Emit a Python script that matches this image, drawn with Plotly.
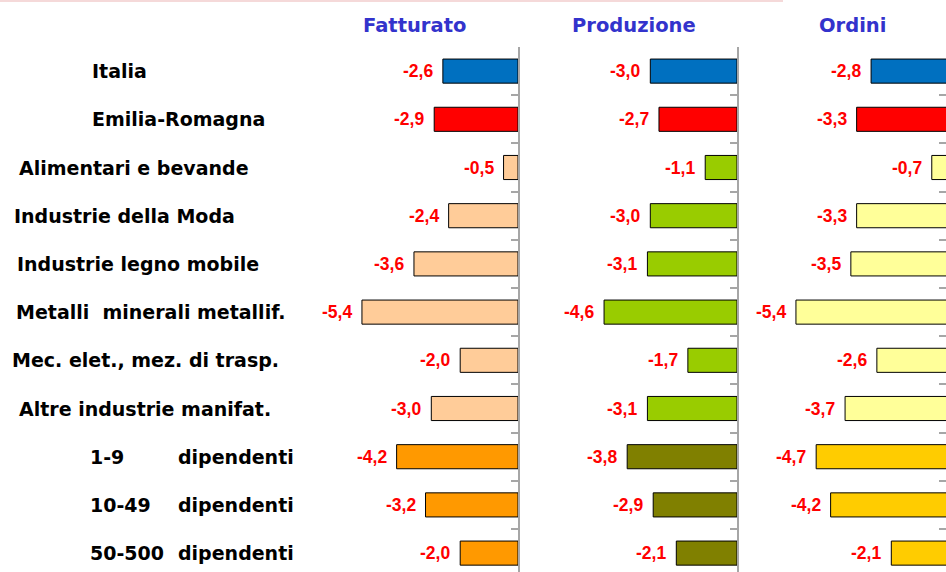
import plotly.graph_objects as go

categories = [
    "Italia",
    "Emilia-Romagna",
    "Alimentari e bevande",
    "Industrie della Moda",
    "Industrie legno mobile",
    "Metalli  minerali metallif.",
    "Mec. elet., mez. di trasp.",
    "Altre industrie manifat.",
    "1-9 dipendenti",
    "10-49 dipendenti",
    "50-500 dipendenti",
]
panel_titles = ["Fatturato", "Produzione", "Ordini"]
fatturato = [-2.6, -2.9, -0.5, -2.4, -3.6, -5.4, -2.0, -3.0, -4.2, -3.2, -2.0]
produzione = [-3.0, -2.7, -1.1, -3.0, -3.1, -4.6, -1.7, -3.1, -3.8, -2.9, -2.1]
ordini = [-2.8, -3.3, -0.7, -3.3, -3.5, -5.4, -2.6, -3.7, -4.7, -4.2, -2.1]

W, H = 946, 572
BLUE, RED = "#0070C0", "#FF0000"
colors_fatt = [BLUE, RED] + ["#FFCC99"] * 6 + ["#FF9900"] * 3
colors_prod = [BLUE, RED] + ["#99CC00"] * 6 + ["#808000"] * 3
colors_ord = [BLUE, RED] + ["#FFFF99"] * 6 + ["#FFCC00"] * 3

series = [fatturato, produzione, ordini]
colors = [colors_fatt, colors_prod, colors_ord]

# layout geometry (pixels)
scale = 28.9              # px per unit
zeros = [518, 737, 952]    # x pixel of value 0 in each panel
lefts = [300, 540, 760]    # left edge of each panel
top_px = 47
row_px = 48.2
n = len(categories)
ypos = list(range(n))
y_bottom = -0.5 + (H - top_px) / row_px

fig = go.Figure()
axis_names = ["", "2", "3"]
for i, (vals, cols) in enumerate(zip(series, colors)):
    xa = "x" + axis_names[i]
    ya = "y" + axis_names[i]
    fig.add_trace(go.Bar(
        x=vals, y=ypos, orientation="h", width=0.5,
        marker=dict(color=cols, line=dict(color="#000000", width=1)),
        xaxis=xa, yaxis=ya, showlegend=False, hoverinfo="x",
    ))
    for v, yv in zip(vals, ypos):
        fig.add_annotation(
            x=v, y=yv, xref=xa, yref=ya, text=("%.1f" % v).replace(".", ","),
            showarrow=False, xanchor="right", xshift=-8,
            font=dict(family="Liberation Sans, Arial", size=17.5, color="#FF0000", weight="bold"),
        )
    right_px = min(zeros[i], W)
    dom = [lefts[i] / W, right_px / W]
    xr = [-(zeros[i] - lefts[i]) / scale, (right_px - zeros[i]) / scale]
    xkey = "xaxis" + axis_names[i]
    ykey = "yaxis" + axis_names[i]
    fig.layout[xkey] = dict(domain=dom, range=xr, visible=False, anchor=ya, fixedrange=True)
    fig.layout[ykey] = dict(
        domain=[0, 1 - top_px / H], range=[y_bottom, -0.5], anchor=xa, side="right",
        showline=True, linecolor="#A6A6A6", linewidth=2,
        tickmode="array", tickvals=[k - 0.5 for k in range(n + 1)], ticktext=[""] * (n + 1),
        ticks="inside", ticklen=7, tickwidth=2, tickcolor="#A6A6A6",
        showgrid=False, zeroline=False, showticklabels=False, fixedrange=True,
    )
    if i > 0:
        fig.layout[ykey]["matches"] = "y"
    # panel title
    fig.add_annotation(
        x=[414, 634, 852][i] / W, y=1 - 25 / H, xref="paper", yref="paper",
        text=panel_titles[i], showarrow=False, xanchor="center", yanchor="middle",
        font=dict(family="DejaVu Sans", size=19.5, color="#3333CC", weight="bold"),
    )

# category labels
label_x = [90, 90, 17, 12, 15, 14, 10, 17, 88, 88, 88]
lab_font = dict(family="DejaVu Sans", size=19, color="#000000", weight="bold")
for k, (cat, lx) in enumerate(zip(categories, label_x)):
    if cat[0].isdigit():
        num, word = cat.split(" ", 1)
        fig.add_annotation(x=lx / W, y=k, xref="paper", yref="y", text=num, showarrow=False,
                           xanchor="left", font=lab_font)
        fig.add_annotation(x=176 / W, y=k, xref="paper", yref="y", text=word, showarrow=False,
                           xanchor="left", font=lab_font)
    else:
        fig.add_annotation(x=lx / W, y=k, xref="paper", yref="y", text=cat.replace("  ", "&nbsp; "),
                           showarrow=False, xanchor="left", font=lab_font)

# thin pink rule at top
fig.add_shape(type="line", xref="paper", yref="paper", x0=0, x1=783 / W,
              y0=1 - 1 / H, y1=1 - 1 / H, line=dict(color="#F2CCCC", width=1.5))

fig.update_layout(
    width=W, height=H, margin=dict(l=0, r=0, t=0, b=0),
    paper_bgcolor="white", plot_bgcolor="rgba(0,0,0,0)",
    bargap=0.5,
)
fig.write_html("out.html", config={"displayModeBar": False},
               post_script="document.body.style.margin='0px';document.body.style.overflow='hidden';")
